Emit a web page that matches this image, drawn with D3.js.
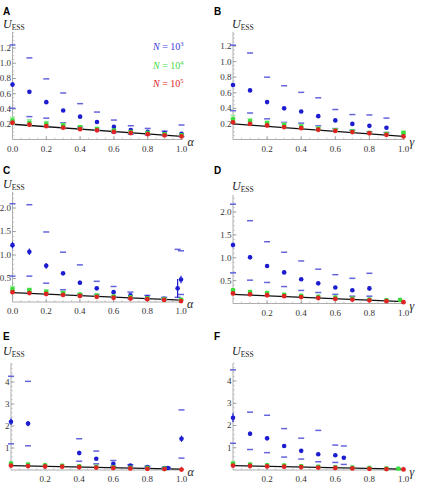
<!DOCTYPE html>
<html>
<head>
<meta charset="utf-8">
<script src="https://cdn.jsdelivr.net/npm/d3@7"></script>
<style>
  body { margin: 0; background: #fff; }
  svg { display: block; }
</style>
</head>
<body>
<script>
// ---- data ----
const xFull = [0, 0.1, 0.2, 0.3, 0.4, 0.5, 0.6, 0.7, 0.8, 0.9, 1.0];

// panel A
const blueAx = [0, 0.1, 0.2, 0.3, 0.4, 0.5, 0.6, 0.7, 0.8, 0.9, 1.0];
const blueA = [0.72, 0.625, 0.49, 0.38, 0.30, 0.23, 0.165, 0.125, 0.10, 0.085, 0.075];
const blueAErr = [0.03, 0.025, 0.018, 0.015, 0.015, 0.01, 0.01, 0.008, 0.006, 0.005, 0.005];
const blueAHi = [1.24, 1.07, 0.795, 0.61, 0.47, 0.36, 0.255, 0.18, 0.145, 0.11, 0.19];
const blueALo = [0.41, 0.30, 0.28, 0.22, 0.165, 0.12, 0.09, 0.07, 0.06, 0.05, 0.04];
const greenA = [0.25, 0.22, 0.205, 0.185, 0.16, 0.14, 0.12, 0.10, 0.085, 0.07, 0.055];
const greenAHi = [0.29, 0.26, 0.235, 0.21, 0.18, 0.155, 0.13, 0.11, 0.095, 0.075, 0.06];
const greenALo = [0.20, 0.19, 0.18, 0.16, 0.14, 0.125, 0.105, 0.09, 0.075, 0.06, 0.045];
const redA = [0.22, 0.195, 0.175, 0.155, 0.135, 0.12, 0.10, 0.085, 0.07, 0.055, 0.04];

// panel B
const blueBx = [0, 0.1, 0.2, 0.3, 0.4, 0.5, 0.6, 0.7, 0.8, 0.9];
const blueB = [0.70, 0.63, 0.48, 0.40, 0.36, 0.30, 0.245, 0.20, 0.175, 0.15];
const blueBErr = [0.02, 0.02, 0.02, 0.015, 0.012, 0.012, 0.01, 0.01, 0.01, 0.01];
const blueBHi = [1.21, 1.11, 0.80, 0.69, 0.605, 0.535, 0.385, 0.32, 0.315, 0.275];
const blueBLo = [0.37, 0.34, 0.265, 0.22, 0.21, 0.175, 0.14, 0.12, 0.10, 0.09];
const greenB = [0.26, 0.235, 0.21, 0.185, 0.165, 0.14, 0.12, 0.105, 0.085, 0.07, 0.085];
const greenBHi = [0.31, 0.265, 0.235, 0.21, 0.19, 0.16, 0.135, 0.115, 0.095, 0.08, 0.105];
const greenBLo = [0.21, 0.20, 0.185, 0.16, 0.145, 0.125, 0.105, 0.09, 0.075, 0.06, 0.07];
const redB = [0.22, 0.20, 0.18, 0.16, 0.145, 0.125, 0.11, 0.095, 0.08, 0.06, 0.04];

// panel C
const blueCx = [0, 0.1, 0.2, 0.3, 0.4, 0.5, 0.6, 0.7, 0.8, 0.9, 0.98, 1.0];
const blueC = [1.21, 1.07, 0.77, 0.61, 0.41, 0.29, 0.21, 0.14, 0.10, 0.07, 0.29, 0.48];
const blueCErr = [0.07, 0.07, 0.06, 0.03, 0.05, 0.02, 0.02, 0.01, 0.01, 0.01, 0.2, 0.08];
const blueCHi = [2.09, 2.07, 1.49, 1.06, 0.79, 0.44, 0.33, 0.21, 0.14, 0.10, 1.12, 1.09];
const blueCLo = [0.55, 0.55, 0.40, 0.26, 0.16, 0.16, 0.10, 0.07, 0.06, 0.05, 0.10, 0.16];
const greenC = [0.27, 0.25, 0.22, 0.19, 0.16, 0.14, 0.12, 0.10, 0.08, 0.06, 0.05];
const greenCHi = [0.33, 0.29, 0.25, 0.21, 0.18, 0.155, 0.13, 0.11, 0.09, 0.07, 0.06];
const greenCLo = [0.21, 0.21, 0.19, 0.17, 0.14, 0.125, 0.105, 0.09, 0.07, 0.05, 0.04];
const redC = [0.21, 0.19, 0.17, 0.15, 0.13, 0.11, 0.09, 0.075, 0.06, 0.045, 0.02];

// panel D
const blueDx = [0, 0.1, 0.2, 0.3, 0.4, 0.5, 0.6, 0.7, 0.8];
const blueD = [1.28, 1.01, 0.82, 0.68, 0.53, 0.44, 0.35, 0.29, 0.33];
const blueDErr = [0.05, 0.05, 0.03, 0.03, 0.03, 0.03, 0.02, 0.02, 0.05];
const blueDHi = [2.17, 1.81, 1.35, 1.12, 0.93, 0.75, 0.63, 0.55, 0.66];
const blueDLo = [0.67, 0.51, 0.46, 0.37, 0.285, 0.24, 0.20, 0.16, 0.16];
const greenDx = [0, 0.1, 0.2, 0.3, 0.4, 0.5, 0.6, 0.7, 0.8, 0.9, 0.98];
const greenD = [0.29, 0.25, 0.23, 0.19, 0.17, 0.15, 0.13, 0.11, 0.09, 0.07, 0.08];
const redD = [0.22, 0.20, 0.18, 0.16, 0.14, 0.12, 0.10, 0.085, 0.07, 0.05, 0.03];

// panel E
const blueEx = [0, 0.1, 0.4, 0.5, 0.6, 0.7, 0.8, 0.9, 0.92, 1.0];
const blueE = [2.19, 2.11, 0.77, 0.51, 0.28, 0.20, 0.13, 0.09, 0.09, 1.42];
const blueEErr = [0.15, 0.12, 0.1, 0.05, 0.04, 0.02, 0.02, 0.02, 0.02, 0.14];
const blueEHi = [4.26, 4.03, 1.42, 0.86, 0.43, 0.24, 0.17, 0.12, 0.12, 2.73];
const blueELo = [1.19, 1.10, 0.40, 0.28, 0.17, 0.12, 0.09, 0.06, 0.06, 0.54];
const greenEx = [0, 0.1, 0.2, 0.3, 0.4, 0.5, 0.6, 0.7, 0.8, 0.9];
const greenE = [0.30, 0.25, 0.22, 0.20, 0.17, 0.15, 0.13, 0.11, 0.09, 0.07];
const redE = [0.20, 0.18, 0.16, 0.15, 0.13, 0.11, 0.09, 0.07, 0.055, 0.04, 0.02];

// panel F
const blueFx = [0, 0.1, 0.2, 0.3, 0.4, 0.5, 0.6, 0.65];
const blueF = [2.35, 1.63, 1.43, 1.08, 0.86, 0.71, 0.66, 0.55];
const blueFErr = [0.2, 0.1, 0.1, 0.06, 0.05, 0.08, 0.06, 0.08];
const blueFHi = [4.5, 2.6, 2.46, 1.86, 1.43, 1.78, 1.12, 1.08];
const blueFLo = [1.2, 0.92, 0.78, 0.58, 0.49, 0.37, 0.34, 0.25];
const greenFx = [0, 0.1, 0.2, 0.3, 0.4, 0.5, 0.6, 0.7, 0.8, 0.9, 0.97];
const greenF = [0.30, 0.25, 0.22, 0.20, 0.17, 0.15, 0.13, 0.11, 0.09, 0.07, 0.06];
const redF = [0.20, 0.18, 0.16, 0.15, 0.13, 0.11, 0.09, 0.07, 0.055, 0.04, 0.025];

// theory line (black)
const theoryX = [0, 1];
const theoryY = [0.2, 0.04];

const legendLabels = ['3', '4', '5'];

const xTicksWithZero = [0, 0.2, 0.4, 0.6, 0.8, 1.0];
const xTicksNoZero = [0.2, 0.4, 0.6, 0.8, 1.0];
const yTicksSmall = [0.2, 0.4, 0.6, 0.8, 1.0, 1.2];
const yTicksMid = [0.5, 1.0, 1.5, 2.0];
const yTicksBig = [1, 2, 3, 4];

const blueCol = '#1c1cd0', blueDash = '#6464dc';
const greenCol = '#3cdc3c', greenDash = '#96ee96';
const redCol = '#e02424';

// ---- panel layout ----
const panels = [
  { letter: 'A', xVar: 'α', left: 12.5, right: 181.5, base: 139.5, top: 32, ref: 1.2, refPx: 48,
    letterY: 14.5, titleY: 28,
    xTicks: xTicksWithZero, yTicks: yTicksSmall, yMinor: 0.05, yFmt: d3.format('.1f'),
    blue: [blueAx, blueA, blueAErr, blueAHi, blueALo], green: [xFull, greenA, greenAHi, greenALo], red: [xFull, redA], legend: true },
  { letter: 'B', xVar: 'γ', left: 233, right: 403.5, base: 139.5, top: 32, ref: 1.2, refPx: 46,
    letterY: 14.5, titleY: 28,
    xTicks: xTicksNoZero, yTicks: yTicksSmall, yMinor: 0.05, yFmt: d3.format('.1f'),
    blue: [blueBx, blueB, blueBErr, blueBHi, blueBLo], green: [xFull, greenB, greenBHi, greenBLo], red: [xFull, redB] },
  { letter: 'C', xVar: 'α', left: 12.5, right: 181, base: 302, top: 192, ref: 2.0, refPx: 208,
    letterY: 173.5, titleY: 188,
    xTicks: xTicksWithZero, yTicks: yTicksMid, yMinor: 0.1, yFmt: d3.format('.1f'),
    blue: [blueCx, blueC, blueCErr, blueCHi, blueCLo], green: [xFull, greenC, greenCHi, greenCLo], red: [xFull, redC] },
  { letter: 'D', xVar: 'γ', left: 233, right: 403.5, base: 303.5, top: 195, ref: 2.0, refPx: 212,
    letterY: 174, titleY: 189.5,
    xTicks: xTicksNoZero, yTicks: yTicksMid, yMinor: 0.1, yFmt: d3.format('.1f'),
    blue: [blueDx, blueD, blueDErr, blueDHi, blueDLo], green: [greenDx, greenD, null, null], red: [xFull, redD] },
  { letter: 'E', xVar: 'α', left: 11, right: 181.5, base: 470, top: 363, ref: 4, refPx: 382,
    letterY: 340, titleY: 355,
    xTicks: xTicksNoZero, yTicks: yTicksBig, yMinor: 0.2, yFmt: d3.format('d'),
    blue: [blueEx, blueE, blueEErr, blueEHi, blueELo], green: [greenEx, greenE, null, null], red: [xFull, redE] },
  { letter: 'F', xVar: 'γ', left: 233, right: 403.5, base: 470, top: 363, ref: 4, refPx: 381,
    letterY: 340, titleY: 355,
    xTicks: xTicksNoZero, yTicks: yTicksBig, yMinor: 0.2, yFmt: d3.format('d'),
    blue: [blueFx, blueF, blueFErr, blueFHi, blueFLo], green: [greenFx, greenF, null, null], red: [xFull, redF] }
];

const svg = d3.select('body').append('svg')
  .attr('width', 424)
  .attr('height', 484);

const serif = 'Liberation Serif, DejaVu Serif, serif';

panels.forEach(p => {
  const g = svg.append('g');
  const x = d3.scaleLinear().domain([0, 1]).range([p.left, p.right]);
  const y = d3.scaleLinear().domain([0, p.ref]).range([p.base, p.refPx]);
  const yTopVal = y.invert(p.top);
  const isLeft = p.left < 100;

  // panel letter
  g.append('text')
    .attr('x', isLeft ? 3 : 214)
    .attr('y', p.letterY)
    .style('font-family', 'Liberation Sans, Arial, sans-serif')
    .style('font-weight', 'bold')
    .style('font-size', '10px')
    .text(p.letter);

  // y axis title U_ESS
  const ut = g.append('text')
    .attr('x', isLeft ? 3 : p.left - 1)
    .attr('y', p.titleY)
    .style('font-family', serif)
    .style('font-size', '12px')
    .style('fill', '#222');
  ut.append('tspan').style('font-style', 'italic').text('U');
  ut.append('tspan').attr('dy', 2).style('font-size', '7.5px').text('ESS');

  // axes lines
  g.append('line')
    .attr('x1', x(0)).attr('x2', x(0))
    .attr('y1', y(0)).attr('y2', p.top)
    .attr('stroke', '#999').attr('stroke-width', 0.8);
  g.append('line')
    .attr('x1', x(0)).attr('x2', x(1) + 1)
    .attr('y1', y(0)).attr('y2', y(0))
    .attr('stroke', '#999').attr('stroke-width', 0.8);

  // minor / major ticks on y
  const yMinorTicks = d3.range(p.yMinor, yTopVal, p.yMinor);
  g.selectAll('.ymin').data(yMinorTicks).join('line')
    .attr('x1', x(0)).attr('x2', x(0) + 1.8)
    .attr('y1', d => y(d)).attr('y2', d => y(d))
    .attr('stroke', '#aaa').attr('stroke-width', 0.6);
  g.selectAll('.ymaj').data(p.yTicks).join('line')
    .attr('x1', x(0)).attr('x2', x(0) + 3.5)
    .attr('y1', d => y(d)).attr('y2', d => y(d))
    .attr('stroke', '#888').attr('stroke-width', 0.7);
  g.selectAll('.ylab').data(p.yTicks).join('text')
    .attr('x', x(0) - 1.5)
    .attr('y', d => y(d))
    .attr('dy', '0.33em')
    .attr('text-anchor', 'end')
    .style('font-family', serif)
    .style('font-size', '9px')
    .style('fill', '#333')
    .text(d => p.yFmt(d));

  // ticks on x
  const xMinorTicks = d3.range(0.05, 1.001, 0.05);
  g.selectAll('.xmin').data(xMinorTicks).join('line')
    .attr('x1', d => x(d)).attr('x2', d => x(d))
    .attr('y1', y(0)).attr('y2', y(0) - 1.8)
    .attr('stroke', '#aaa').attr('stroke-width', 0.6);
  g.selectAll('.xmaj').data(xTicksNoZero).join('line')
    .attr('x1', d => x(d)).attr('x2', d => x(d))
    .attr('y1', y(0)).attr('y2', y(0) - 3.5)
    .attr('stroke', '#888').attr('stroke-width', 0.7);
  g.selectAll('.xlab').data(p.xTicks).join('text')
    .attr('x', d => x(d))
    .attr('y', y(0) + 12)
    .attr('text-anchor', 'middle')
    .style('font-family', serif)
    .style('font-size', '9px')
    .style('fill', '#333')
    .text(d => d3.format('.1f')(d));

  // x variable name
  g.append('text')
    .attr('x', x(1) + 6)
    .attr('y', y(0) + 6)
    .style('font-family', serif)
    .style('font-style', 'italic')
    .style('font-size', '12px')
    .style('fill', '#222')
    .text(p.xVar);

  // theory line
  const line = d3.line().x(d => x(d[0])).y(d => y(d[1]));
  g.append('path')
    .datum(d3.zip(theoryX, theoryY))
    .attr('d', line)
    .attr('fill', 'none')
    .attr('stroke', '#111')
    .attr('stroke-width', 1.3);

  // dash helper
  function dashes(xs, vals, color, w) {
    g.append('g').selectAll('line').data(d3.zip(xs, vals)).join('line')
      .attr('x1', d => x(d[0]) - w / 2).attr('x2', d => x(d[0]) + w / 2)
      .attr('y1', d => y(d[1])).attr('y2', d => y(d[1]))
      .attr('stroke', color).attr('stroke-width', 1.5);
  }

  // blue N = 10^3
  const [bx, bm, be, bh, bl] = p.blue;
  dashes(bx, bh, blueDash, 6);
  dashes(bx, bl, blueDash, 6);
  g.append('g').selectAll('line').data(d3.zip(bx, bm, be)).join('line')
    .attr('x1', d => x(d[0])).attr('x2', d => x(d[0]))
    .attr('y1', d => y(d[1] - d[2])).attr('y2', d => y(d[1] + d[2]))
    .attr('stroke', blueCol).attr('stroke-width', 1.2);
  g.append('g').selectAll('circle').data(d3.zip(bx, bm)).join('circle')
    .attr('cx', d => x(d[0])).attr('cy', d => y(d[1]))
    .attr('r', 2.3).attr('fill', blueCol);

  // green N = 10^4
  const [gx, gm, gh, gl] = p.green;
  if (gh) dashes(gx, gh, greenDash, 5);
  if (gl) dashes(gx, gl, greenDash, 5);
  g.append('g').selectAll('rect').data(d3.zip(gx, gm)).join('rect')
    .attr('x', d => x(d[0]) - 2.2).attr('y', d => y(d[1]) - 2.2)
    .attr('width', 4.4).attr('height', 4.4)
    .attr('rx', 1.2)
    .attr('fill', greenCol);

  // red N = 10^5
  const [rx, rm] = p.red;
  g.append('g').selectAll('circle').data(d3.zip(rx, rm)).join('circle')
    .attr('cx', d => x(d[0])).attr('cy', d => y(d[1]))
    .attr('r', 2.4).attr('fill', redCol);

  // legend
  if (p.legend) {
    const legCols = ['#3a3ad8', greenCol, redCol];
    legendLabels.forEach((e, i) => {
      const t = g.append('text')
        .attr('x', 153)
        .attr('y', 50 + i * 18.5)
        .style('font-family', serif)
        .style('font-size', '10px')
        .style('fill', legCols[i]);
      t.append('tspan').style('font-style', 'italic').text('N');
      t.append('tspan').text(' = 10');
      t.append('tspan').attr('dy', -4).style('font-size', '6.5px').text(e);
    });
  }
});
</script>
</body>
</html>
